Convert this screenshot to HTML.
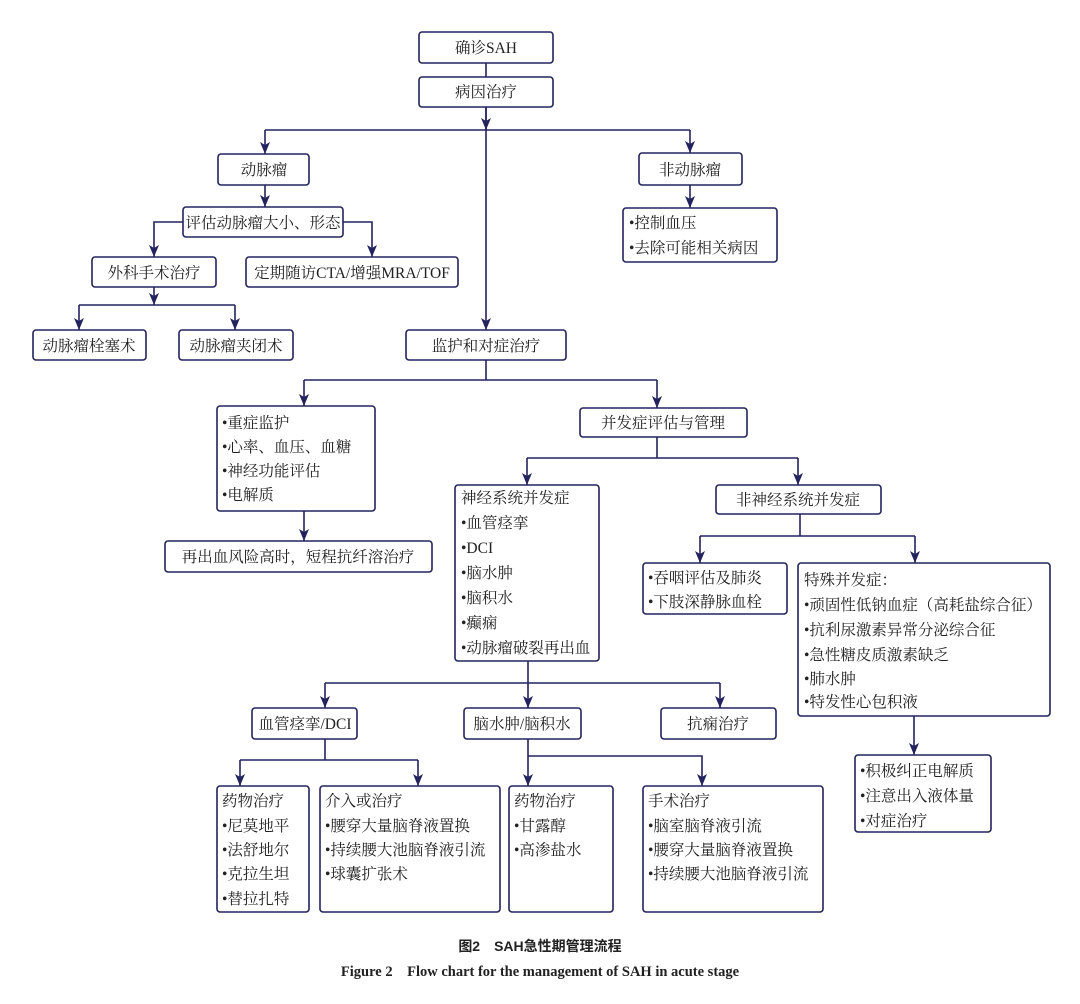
<!DOCTYPE html>
<html><head><meta charset="utf-8"><style>
html,body{margin:0;padding:0;background:#fff;}
svg{display:block;}
text{font-family:"Liberation Serif","Noto Serif CJK SC",serif;font-size:15.5px;fill:#222;}
.b{fill:#fff;stroke:#23235e;stroke-width:1.6;}
.l{fill:none;stroke:#23235e;stroke-width:1.6;}
.c{text-anchor:middle;}
</style></head><body>
<svg width="1080" height="1004" viewBox="0 0 1080 1004" xmlns="http://www.w3.org/2000/svg">
<defs><marker id="a" viewBox="0 0 12 10" refX="12" refY="5" markerWidth="12" markerHeight="10" markerUnits="userSpaceOnUse" orient="auto">
<path d="M0,0 L12,5 L0,10 L3,5 Z" fill="#23235e"/></marker></defs>
<g class="l">
<path d="M486 63V77"/>
<path d="M486 107V330" marker-end="url(#a)"/>
<path d="M486 107V130" marker-end="url(#a)"/>
<path d="M265 130H690"/>
<path d="M265 130V154" marker-end="url(#a)"/>
<path d="M690 130V153" marker-end="url(#a)"/>
<path d="M265 185V207" marker-end="url(#a)"/>
<path d="M183 222H154V257" marker-end="url(#a)"/>
<path d="M343 222H372V257" marker-end="url(#a)"/>
<path d="M154 287V305" marker-end="url(#a)"/>
<path d="M79 305H235"/>
<path d="M79 305V330" marker-end="url(#a)"/>
<path d="M235 305V330" marker-end="url(#a)"/>
<path d="M690 185V208" marker-end="url(#a)"/>
<path d="M486 360V380"/>
<path d="M304 380H657"/>
<path d="M304 380V406" marker-end="url(#a)"/>
<path d="M657 380V408" marker-end="url(#a)"/>
<path d="M304 511V541" marker-end="url(#a)"/>
<path d="M657 437V458"/>
<path d="M527 458H798"/>
<path d="M527 458V485" marker-end="url(#a)"/>
<path d="M798 458V485" marker-end="url(#a)"/>
<path d="M800 514V536"/>
<path d="M700 536H915"/>
<path d="M700 536V563" marker-end="url(#a)"/>
<path d="M915 536V563" marker-end="url(#a)"/>
<path d="M914 716V755" marker-end="url(#a)"/>
<path d="M528 661V683"/>
<path d="M325 683H720"/>
<path d="M325 683V708" marker-end="url(#a)"/>
<path d="M528 683V708" marker-end="url(#a)"/>
<path d="M720 683V708" marker-end="url(#a)"/>
<path d="M325 739V760"/>
<path d="M240 760H418"/>
<path d="M240 760V786" marker-end="url(#a)"/>
<path d="M418 760V786" marker-end="url(#a)"/>
<path d="M528 739V786" marker-end="url(#a)"/>
<path d="M528 756H702V786" marker-end="url(#a)"/>
</g>
<g>
<rect class="b" x="419" y="32" width="134" height="31" rx="3"/><text class="c" x="486" y="53">确诊SAH</text>
<rect class="b" x="419" y="77" width="134" height="30" rx="3"/><text class="c" x="486" y="97">病因治疗</text>
<rect class="b" x="218" y="154" width="91" height="31" rx="3"/><text class="c" x="264" y="175">动脉瘤</text>
<rect class="b" x="639" y="153" width="103" height="32" rx="3"/><text class="c" x="690" y="175">非动脉瘤</text>
<rect class="b" x="183" y="207" width="160" height="30" rx="3"/><text class="c" x="263" y="228">评估动脉瘤大小、形态</text>
<rect class="b" x="92" y="257" width="124" height="30" rx="3"/><text class="c" x="154" y="278">外科手术治疗</text>
<rect class="b" x="246" y="257" width="212" height="30" rx="3"/><text class="c" x="352" y="278">定期随访CTA/增强MRA/TOF</text>
<rect class="b" x="33" y="330" width="113" height="30" rx="3"/><text class="c" x="89" y="351">动脉瘤栓塞术</text>
<rect class="b" x="179" y="330" width="114" height="30" rx="3"/><text class="c" x="236" y="351">动脉瘤夹闭术</text>
<rect class="b" x="623" y="208" width="154" height="54" rx="3"/>
<text x="629" y="228">•控制血压</text><text x="629" y="253">•去除可能相关病因</text>
<rect class="b" x="406" y="330" width="160" height="30" rx="3"/><text class="c" x="486" y="351">监护和对症治疗</text>
<rect class="b" x="217" y="406" width="158" height="105" rx="3"/>
<text x="222" y="428">•重症监护</text><text x="222" y="452">•心率、血压、血糖</text><text x="222" y="476">•神经功能评估</text><text x="222" y="500">•电解质</text>
<rect class="b" x="165" y="541" width="267" height="31" rx="3"/><text class="c" x="298" y="562">再出血风险高时，短程抗纤溶治疗</text>
<rect class="b" x="580" y="408" width="167" height="29" rx="3"/><text class="c" x="663" y="428">并发症评估与管理</text>
<rect class="b" x="455" y="485" width="144" height="176" rx="3"/>
<text x="461" y="503">神经系统并发症</text><text x="461" y="528">•血管痉挛</text><text x="461" y="553">•DCI</text><text x="461" y="578">•脑水肿</text><text x="461" y="603">•脑积水</text><text x="461" y="628">•癫痫</text><text x="461" y="653">•动脉瘤破裂再出血</text>
<rect class="b" x="716" y="485" width="165" height="29" rx="3"/><text class="c" x="798" y="505">非神经系统并发症</text>
<rect class="b" x="643" y="563" width="144" height="51" rx="3"/>
<text x="648" y="583">•吞咽评估及肺炎</text><text x="648" y="607">•下肢深静脉血栓</text>
<rect class="b" x="798" y="563" width="252" height="153" rx="3"/>
<text x="804" y="585">特殊并发症：</text><text x="804" y="610">•顽固性低钠血症（高耗盐综合征）</text><text x="804" y="635">•抗利尿激素异常分泌综合征</text><text x="804" y="660">•急性糖皮质激素缺乏</text><text x="804" y="684">•肺水肿</text><text x="804" y="707">•特发性心包积液</text>
<rect class="b" x="855" y="755" width="136" height="77" rx="3"/>
<text x="860" y="776">•积极纠正电解质</text><text x="860" y="801">•注意出入液体量</text><text x="860" y="826">•对症治疗</text>
<rect class="b" x="252" y="708" width="105" height="31" rx="3"/><text class="c" x="305" y="729">血管痉挛/DCI</text>
<rect class="b" x="464" y="708" width="117" height="31" rx="3"/><text class="c" x="522" y="729">脑水肿/脑积水</text>
<rect class="b" x="661" y="708" width="115" height="31" rx="3"/><text class="c" x="718" y="729">抗痫治疗</text>
<rect class="b" x="217" y="786" width="92" height="126" rx="3"/>
<text x="222" y="806">药物治疗</text><text x="222" y="831">•尼莫地平</text><text x="222" y="855">•法舒地尔</text><text x="222" y="879">•克拉生坦</text><text x="222" y="904">•替拉扎特</text>
<rect class="b" x="320" y="786" width="180" height="126" rx="3"/>
<text x="325" y="806">介入或治疗</text><text x="325" y="831">•腰穿大量脑脊液置换</text><text x="325" y="855">•持续腰大池脑脊液引流</text><text x="325" y="879">•球囊扩张术</text>
<rect class="b" x="509" y="786" width="104" height="126" rx="3"/>
<text x="514" y="806">药物治疗</text><text x="514" y="831">•甘露醇</text><text x="514" y="855">•高渗盐水</text>
<rect class="b" x="643" y="786" width="180" height="126" rx="3"/>
<text x="648" y="806">手术治疗</text><text x="648" y="831">•脑室脑脊液引流</text><text x="648" y="855">•腰穿大量脑脊液置换</text><text x="648" y="879">•持续腰大池脑脊液引流</text>
</g>
<text class="c" x="540" y="951" style="font-family:'Liberation Sans','Noto Sans CJK SC',sans-serif;font-weight:bold;font-size:14px;fill:#222">图2　SAH急性期管理流程</text>
<text class="c" x="540" y="976" style="font-weight:bold;font-size:14.5px;fill:#222">Figure 2　Flow chart for the management of SAH in acute stage</text>
</svg>
</body></html>
